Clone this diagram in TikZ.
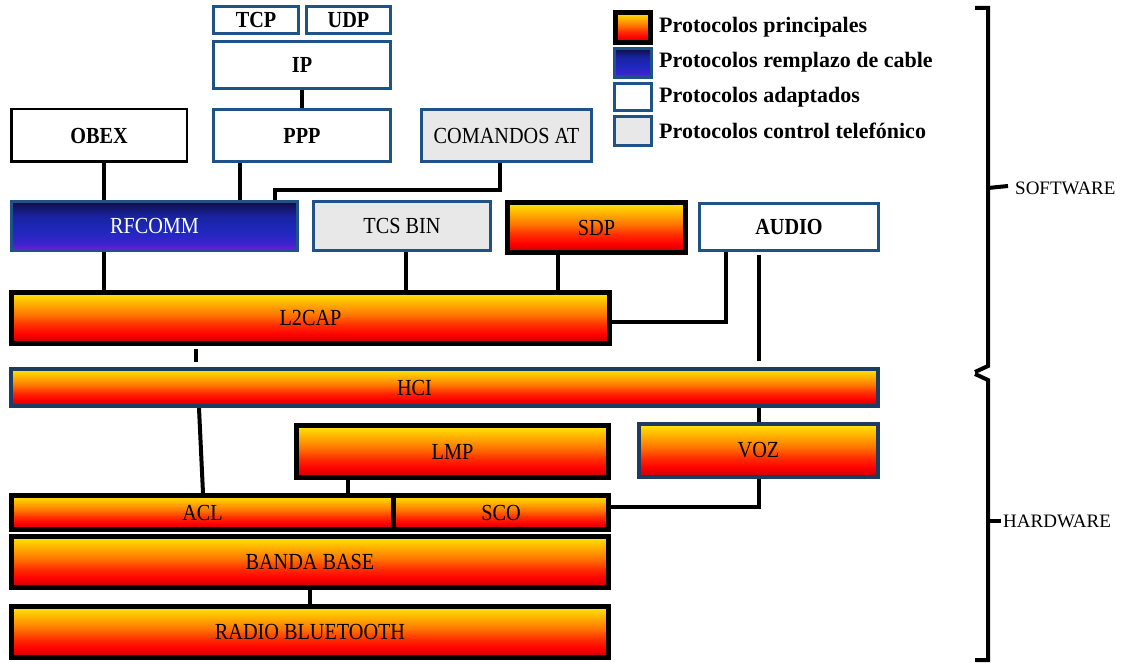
\documentclass[tikz,border=0pt]{standalone}
\usepackage{fontspec}
\setmainfont{Liberation Serif}
\newfontfamily\boxfont{Liberation Serif}[FakeStretch=0.88]

% palette
\definecolor{edgeblue}{RGB}{31,82,135}
\definecolor{hciedge}{RGB}{28,60,100}
\definecolor{ctrlgray}{RGB}{232,232,232}
\definecolor{wA}{RGB}{160,0,0}
\definecolor{wB}{RGB}{215,0,0}
\definecolor{wC}{RGB}{255,0,0}
\definecolor{wD}{RGB}{255,45,0}
\definecolor{wE}{RGB}{255,115,0}
\definecolor{wF}{RGB}{255,170,0}
\definecolor{wG}{RGB}{255,212,0}
\definecolor{wH}{RGB}{255,235,40}
\definecolor{bA}{RGB}{115,30,215}
\definecolor{bB}{RGB}{60,35,205}
\definecolor{bC}{RGB}{30,40,190}
\definecolor{bD}{RGB}{25,35,160}
\definecolor{bE}{RGB}{20,20,100}
\definecolor{bF}{RGB}{12,12,60}

\pgfdeclareverticalshading{warmshade}{100bp}{%
  color(0bp)=(wA); color(25bp)=(wA); color(28bp)=(wB); color(34bp)=(wC);
  color(43bp)=(wD); color(53bp)=(wE); color(63bp)=(wF); color(71bp)=(wG);
  color(75bp)=(wH); color(100bp)=(wH)}
\pgfdeclareverticalshading{cableshade}{100bp}{%
  color(0bp)=(bA); color(25bp)=(bA); color(32bp)=(bB); color(45bp)=(bC);
  color(60bp)=(bD); color(70bp)=(bE); color(75bp)=(bF); color(100bp)=(bF)}

\tikzset{
  box/.style={inner sep=0pt, font=\boxfont\fontsize{23}{23}\selectfont},
  bold/.style={font=\boxfont\fontsize{23}{23}\selectfont\bfseries},
  mainbox/.style={box, shade, shading=warmshade, draw=black, line width=5pt},
  mainblue/.style={box, shade, shading=warmshade, draw=hciedge, line width=4pt},
  adapted/.style={box, fill=white, draw=edgeblue, line width=3pt},
  control/.style={box, fill=ctrlgray, draw=edgeblue, line width=3pt},
  cable/.style={box, shade, shading=cableshade, draw=edgeblue, line width=3pt, text=white},
  plainbox/.style={box, fill=white, draw=black, line width=2.5pt},
  link/.style={line width=4pt, draw=black},
  legtext/.style={anchor=west, inner sep=0pt, font=\fontsize{22}{22}\selectfont\bfseries},
  sidetext/.style={anchor=west, inner sep=0pt, font=\fontsize{19}{19}\selectfont},
  brace/.style={line width=4pt, draw=black, line join=miter},
}

\begin{document}
\begin{tikzpicture}[x=1pt, y=-1pt]
\useasboundingbox (0,0) rectangle (1126,663);

% upper stack
\node[adapted, bold, minimum width=85, minimum height=27] (tcp) at (256,20) {TCP};
\node[adapted, bold, minimum width=84, minimum height=27] (udp) at (348.5,20) {UDP};
\node[adapted, bold, minimum width=177, minimum height=47] (ip) at (302,65) {IP};
\node[adapted, bold, minimum width=177, minimum height=52] (ppp) at (302,135.5) {PPP};
\node[plainbox, bold, minimum width=175.5, minimum height=52.5] (obex) at (99,135.5) {OBEX};
\node[control, minimum width=170, minimum height=52] (at) at (506.5,135.5) {COMANDOS AT};

\node[cable, minimum width=286, minimum height=49] (rfcomm) at (154.5,226) {RFCOMM};
\node[control, minimum width=177, minimum height=49] (tcs) at (402,226) {TCS BIN};
\node[mainbox, minimum width=178, minimum height=50] (sdp) at (596.5,227.5) {SDP};
\node[adapted, bold, minimum width=179, minimum height=47] (audio) at (789,227) {AUDIO};

\node[mainbox, minimum width=598, minimum height=51] (l2cap) at (310.5,318) {L2CAP};
\node[mainblue, minimum width=867, minimum height=37,
      label={[box, xshift=-30pt]center:HCI}] (hci) at (444.5,387.5) {};

% lower stack
\node[mainbox, minimum width=312, minimum height=52] (lmp) at (452.5,451.5) {LMP};
\node[mainblue, minimum width=239, minimum height=53] (voz) at (758.5,450.5) {VOZ};
\node[mainbox, minimum width=382, minimum height=34] (acl) at (202.5,512.5) {ACL};
\node[mainbox, minimum width=215, minimum height=34] (sco) at (501,512.5) {SCO};
\node[mainbox, minimum width=597, minimum height=51] (banda) at (310,562) {BANDA BASE};
\node[mainbox, minimum width=597, minimum height=51] (radio) at (310,632) {RADIO BLUETOOTH};

% connectors
\draw[link] (ip.south) -- (ppp.north);
\draw[link] (obex.south -| 104,0) -- (rfcomm.north -| 104,0);
\draw[link] (ppp.south -| 240,0) -- (rfcomm.north -| 240,0);
\draw[link] (at.south -| 500,0) -- ++(0,27) -| (rfcomm.north -| 275,0);
\draw[link] (rfcomm.south -| 104,0) -- (l2cap.north -| 104,0);
\draw[link] (tcs.south -| 406,0) -- (l2cap.north -| 406,0);
\draw[link] (sdp.south -| 558,0) -- (l2cap.north -| 558,0);
\draw[link] (audio.south -| 726,0) |- (l2cap.east |- 0,322);
\draw[link] ([yshift=-3pt]audio.south -| 759,0) -- ([yshift=6pt]hci.north -| 759,0);
\coordinate (tickend) at (196,362);
\draw[link] ([yshift=-3pt]l2cap.south -| tickend) -- (tickend);
\draw[link] (hci.south -| 199,0) -- (acl.north -| 203,0);
\draw[link] (hci.south -| 759,0) -- (voz.north -| 759,0);
\draw[link] (lmp.south -| 348,0) -- (acl.north -| 348,0);
\draw[link] (voz.south -| 759,0) |- (sco.east |- 0,507);
\draw[link] (banda.south -| 310,0) -- (radio.north -| 310,0);

% legend
\node[mainbox, minimum width=35, minimum height=30] (k1) at (633,27.5) {};
\node[cable, minimum width=37, minimum height=29] (k2) at (633,63) {};
\node[adapted, minimum width=37, minimum height=27] (k3) at (633,97) {};
\node[control, minimum width=37, minimum height=29] (k4) at (633,131) {};
\node[legtext] (t1) at (659,27) {Protocolos principales};
\node[legtext] (t2) at (659,62) {Protocolos remplazo de cable};
\node[legtext] (t3) at (659,97) {Protocolos adaptados};
\node[legtext] (t4) at (659,131) {Protocolos control telefónico};

% software / hardware brackets
\draw[brace] (975,8) -- (988,8) -- (988,366) -- (975,372);
\draw[brace] (988,188) -- (1008,186);
\draw[brace] (975,374) -- (988,380) -- (988,660) -- (975,660);
\draw[brace] (988,521) -- (1001,521);
\node[sidetext] (sw) at (1015,188) {SOFTWARE};
\node[sidetext] (hw) at (1003,521) {HARDWARE};
\end{tikzpicture}
\end{document}
